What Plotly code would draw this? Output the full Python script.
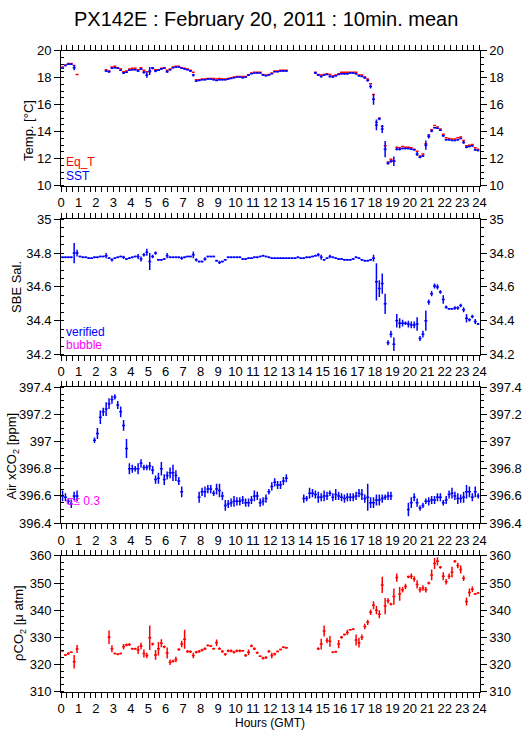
import plotly.graph_objects as go

N = None
# 10-minute bins, centre times in hours GMT
hours = [(i + 0.5) / 6 for i in range(144)]

# ---------------- Temperature ----------------
sst = [
    18.7, 18.9, 19.0, 19.0, 18.75, N,
    N, N, N, N, N, N,
    N, N, N, 18.5, 18.45, 18.7,
    18.75, 18.7, 18.55, 18.35, 18.4, 18.55,
    18.6, 18.6, 18.5, 18.65, 18.4, 18.2,
    18.5, 18.7, 18.5, 18.55, 18.65, 18.7,
    18.45, 18.6, 18.75, 18.8, 18.8, 18.7,
    18.65, 18.6, 18.5, 18.2, 17.75, 17.8,
    17.85, 17.85, 17.9, 17.9, 17.85, 17.8,
    17.85, 17.85, 17.85, 17.9, 17.95, 18.0,
    18.05, 18.05, 18.0, 18.05, 18.2, 18.3,
    18.35, 18.35, 18.35, 18.2, 18.15, 18.2,
    18.3, 18.45, 18.45, 18.5, 18.5, 18.5,
    N, N, N, N, N, N,
    N, N, N, 18.35, 18.2, 18.1,
    18.2, 18.25, 18.1, 18.05, 18.15, 18.25,
    18.3, 18.3, 18.3, 18.35, 18.35, 18.3,
    18.15, 18.1, 18.0, 17.8, 17.35, 16.4,
    14.5, 14.95, 14.2, 12.7, 11.65, 11.8,
    11.8, 12.7, 12.7, 12.75, 12.75, 12.75,
    12.7, 12.65, 12.35, 12.1, 12.2, 13.0,
    13.65, 14.05, 14.3, 14.25, 14.1, 13.7,
    13.4, 13.4, 13.35, 13.35, 13.4, 13.5,
    13.2, 12.85, 12.9, 12.95, 12.65, 12.6,
]
sst_err = [
    .05, .05, .05, .05, .2, 0,
    0, 0, 0, 0, 0, 0,
    0, 0, 0, .05, .08, .05,
    .05, .05, .05, .08, .05, .05,
    .05, .05, .08, .05, .1, .2,
    .3, .08, .1, .05, .05, .05,
    .08, .05, .05, .05, .05, .05,
    .05, .05, .05, .1, .05, .05,
    .03, .03, .03, .03, .03, .03,
    .03, .03, .03, .03, .03, .03,
    .03, .03, .03, .03, .03, .03,
    .03, .03, .03, .03, .03, .03,
    .03, .03, .03, .03, .03, .03,
    0, 0, 0, 0, 0, 0,
    0, 0, 0, .08, .05, .08,
    .05, .05, .08, .05, .05, .05,
    .05, .05, .05, .05, .05, .05,
    .05, .05, .08, .08, .15, .4,
    .4, .1, .3, .6, .1, .1,
    .35, .1, .1, .05, .05, .05,
    .05, .05, .15, .08, .08, .35,
    .15, .1, .05, .05, .05, .08,
    .05, .05, .05, .05, .05, .05,
    .1, .08, .05, .05, .08, .05,
]
eq_t = [
    18.8, 18.95, 19.05, 19.05, 18.9, 18.25,
    N, N, N, N, N, N,
    N, N, N, 18.6, 18.5, 18.8,
    18.85, 18.75, 18.65, 18.45, 18.5, 18.65,
    18.7, 18.7, 18.6, 18.75, 18.55, 18.45,
    18.45, 18.75, 18.6, 18.6, 18.7, 18.75,
    18.55, 18.65, 18.8, 18.85, 18.85, 18.75,
    18.7, 18.65, 18.55, 18.4, 17.85, 17.85,
    17.9, 17.9, 17.95, 17.95, 17.95, 17.9,
    17.95, 17.9, 17.9, 17.95, 18.0, 18.05,
    18.1, 18.1, 18.1, 18.1, 18.2, 18.35,
    18.4, 18.4, 18.4, 18.25, 18.2, 18.25,
    18.35, 18.5, 18.5, 18.55, 18.55, 18.55,
    N, N, N, N, N, N,
    N, N, N, 18.4, 18.25, 18.2,
    18.25, 18.3, 18.25, 18.15, 18.2, 18.3,
    18.4, 18.4, 18.4, 18.4, 18.4, 18.4,
    18.2, 18.2, 18.05, 17.9, 17.55, 16.75,
    14.7, 15.0, 14.4, 12.95, 11.75, 11.95,
    11.85, 12.85, 12.8, 12.9, 12.85, 12.85,
    12.8, 12.7, 12.55, 12.2, 12.35, 13.1,
    13.75, 14.15, 14.45, 14.35, 14.2, 13.8,
    13.55, 13.5, 13.45, 13.45, 13.55, 13.6,
    13.35, 12.95, 13.0, 13.05, 12.8, 12.7,
]

# ---------------- Salinity ----------------
sal = [
    34.775, 34.775, 34.775, 34.775, 34.80, 34.80,
    34.78, 34.775, 34.775, 34.77, 34.77, 34.775,
    34.775, 34.78, 34.78, 34.785, 34.77, 34.76,
    34.77, 34.775, 34.78, 34.775, 34.765, 34.77,
    34.775, 34.78, 34.78, 34.765, 34.79, 34.805,
    34.75, 34.78, 34.80, 34.76, 34.76, 34.765,
    34.785, 34.775, 34.775, 34.775, 34.775, 34.77,
    34.775, 34.78, 34.78, 34.79, 34.76, 34.75,
    34.75, 34.765, 34.78, 34.78, 34.78, 34.755,
    34.745, 34.75, 34.76, 34.775, 34.775, 34.775,
    34.775, 34.775, 34.765, 34.765, 34.77, 34.77,
    34.775, 34.775, 34.78, 34.785, 34.78, 34.775,
    34.77, 34.77, 34.77, 34.77, 34.77, 34.77,
    34.77, 34.77, 34.77, 34.775, 34.77, 34.77,
    34.775, 34.775, 34.78, 34.785, 34.79, 34.775,
    34.76, 34.77, 34.78, 34.775, 34.77, 34.765,
    34.765, 34.76, 34.76, 34.76, 34.765, 34.775,
    34.77, 34.76, 34.755, 34.755, 34.76, 34.77,
    34.63, 34.59, 34.62, 34.50, 34.27, 34.32,
    34.26, 34.40, 34.385, 34.385, 34.385, 34.38,
    34.375, 34.375, 34.38, 34.295, 34.32, 34.40,
    34.51, 34.56, 34.605, 34.60, 34.57, 34.525,
    34.48, 34.47, 34.47, 34.475, 34.475, 34.49,
    34.465, 34.415, 34.405, 34.425, 34.395, 34.38,
]
sal_err = [
    .005, .005, .005, .005, .06, .02,
    .005, .005, .005, .005, .005, .005,
    .005, .005, .005, .015, .005, .01,
    .005, .005, .005, .01, .005, .005,
    .005, .005, .015, .015, .01, .02,
    .05, .01, .01, .005, .005, .005,
    .015, .005, .005, .005, .005, .01,
    .005, .005, .005, .02, .01, .005,
    .005, .01, .005, .005, .005, .005,
    .01, .005, .005, .005, .005, .005,
    .005, .005, .005, .005, .005, .005,
    .005, .005, .005, .005, .005, .005,
    .005, .005, .005, .005, .005, .005,
    .005, .005, .005, .005, .005, .005,
    .005, .005, .005, .005, .01, .015,
    .005, .005, .01, .005, .005, .005,
    .005, .005, .005, .005, .005, .005,
    .005, .005, .005, .005, .005, .02,
    .11, .05, .06, .06, .015, .02,
    .04, .04, .03, .02, .01, .02,
    .02, .02, .04, .015, .02, .06,
    .015, .015, .015, .015, .01, .025,
    .01, .005, .005, .01, .01, .01,
    .015, .025, .01, .01, .015, .005,
]

# ---------------- Air xCO2 ----------------
xco2 = [
    396.60, 396.59, 396.56, 396.54, 396.60, 396.60,
    N, N, N, N, N, 397.01,
    397.06, 397.18, 397.22, 397.24, 397.28, 397.31,
    397.33, 397.27, 397.22, 397.12, 396.95, 396.80,
    396.80, 396.80, 396.80, 396.84, 396.81, 396.81,
    396.82, 396.79, 396.72, 396.73, 396.80, 396.72,
    396.75, 396.77, 396.77, 396.75, 396.71, 396.63,
    N, N, N, N, N, 396.59,
    396.63, 396.63, 396.65, 396.65, 396.62, 396.65,
    396.64, 396.60, 396.53, 396.54, 396.55, 396.56,
    396.56, 396.56, 396.57, 396.55, 396.55, 396.57,
    396.60, 396.60, 396.55, 396.56, 396.58, 396.63,
    396.67, 396.70, 396.68, 396.68, 396.71, 396.73,
    N, N, N, N, N, 396.58,
    396.58, 396.62, 396.62, 396.61, 396.59, 396.59,
    396.60, 396.60, 396.62, 396.59, 396.61, 396.60,
    396.59, 396.58, 396.59, 396.59, 396.59, 396.60,
    396.62, 396.61, 396.58, 396.59, 396.55, 396.55,
    396.57, 396.57, 396.58, 396.59, 396.60, 396.60,
    N, N, N, N, N, 396.50,
    396.55, 396.59, 396.55, 396.51, 396.53, 396.56,
    396.56, 396.57, 396.57, 396.59, 396.59, 396.55,
    396.57, 396.61, 396.62, 396.60, 396.58, 396.58,
    396.59, 396.63, 396.63, 396.59, 396.63, 396.60,
]
xco2_err = [
    .04, .03, .02, .03, .03, .04,
    0, 0, 0, 0, 0, .02,
    .04, .05, .03, .05, .04, .03,
    .02, .03, .04, .04, .07, .04,
    .03, .02, .04, .03, .02, .02,
    .03, .03, .03, .04, .05, .04,
    .03, .04, .06, .04, .03, .04,
    0, 0, 0, 0, 0, .04,
    .03, .04, .03, .03, .02, .04,
    .05, .03, .04, .03, .03, .04,
    .03, .03, .03, .03, .03, .03,
    .04, .03, .03, .03, .03, .02,
    .03, .03, .03, .03, .03, .03,
    0, 0, 0, 0, 0, .03,
    .02, .04, .03, .03, .04, .03,
    .04, .03, .02, .03, .04, .03,
    .03, .03, .03, .03, .03, .03,
    .03, .04, .03, .10, .04, .04,
    .04, .04, .03, .02, .03, .03,
    0, 0, 0, 0, 0, .05,
    .04, .03, .03, .02, .02, .02,
    .03, .03, .03, .03, .03, .02,
    .03, .03, .04, .03, .04, .03,
    .04, .05, .04, .03, .04, .02,
]

# ---------------- pCO2 ----------------
pco2 = [
    325.0, 323.5, 324.0, 324.5, 321.0, 325.7,
    N, N, N, N, N, N,
    N, N, N, N, 330.0, 325.8,
    324.0, 323.7, 324.0, 326.5, 327.2, 327.3,
    325.8, 325.8, 325.3, 326.8, 324.0, 323.3,
    329.8, 327.5, 323.5, 325.8, 327.8, 326.5,
    324.2, 320.8, 321.2, 321.8, 325.5, 327.5,
    329.3, 324.8, 324.7, 323.3, 324.5, 324.8,
    325.3, 325.8, 327.0, 326.8, 325.8, 328.0,
    325.8, 324.8, 323.7, 325.0, 325.0, 324.5,
    325.0, 325.0, 325.0, 323.3, 324.5, 326.8,
    325.8, 324.3, 323.0, 322.3, 322.5, 324.8,
    323.3, 323.8, 324.8, 325.5, 326.3, 326.1,
    N, N, N, N, N, N,
    N, N, N, N, 325.8, 327.5,
    332.3, 328.8, 328.5, 324.5, 324.7, 327.5,
    330.0, 331.0, 331.8, 332.8, 333.0, 329.0,
    328.0, 330.0, 334.0, 335.5, 339.2, 341.8,
    340.0, 338.5, 349.3, 341.5, 343.5, 342.2,
    345.0, 352.0, 346.0, 347.5, 348.7, 352.3,
    352.5, 351.5, 349.5, 347.5, 348.2, 347.5,
    350.0, 353.0, 357.2, 358.0, 355.8, 352.5,
    350.5, 352.5, 354.0, 358.0, 356.5, 355.0,
    351.8, 343.2, 346.5, 347.7, 346.0, 346.3,
]
pco2_err = [
    .3, .3, .5, .3, 2.5, 1.5,
    0, 0, 0, 0, 0, 0,
    0, 0, 0, 0, 2.5, 1.3,
    .3, .3, .3, 1.0, .5, .5,
    .3, .3, 1.5, 1.2, 1.5, 1.0,
    4.5, .5, 1.8, 2.5, 1.5, .5,
    2.0, 1.0, .5, 1.0, .5, 1.2,
    3.5, .5, .5, 1.0, .5, .5,
    .5, .5, .3, .3, .3, 1.2,
    .5, .5, .5, .5, .5, .5,
    .5, .5, .3, .5, 1.0, .5,
    .5, .5, .3, .5, .5, .5,
    1.0, .5, .3, .3, .3, .3,
    0, 0, 0, 0, 0, 0,
    0, 0, 0, 0, .5, 2.0,
    2.0, 1.0, 2.0, .3, .3, 1.5,
    .5, .3, 1.0, .3, .3, 2.0,
    1.8, 1.0, 1.0, 1.0, 1.0, 1.5,
    1.5, 1.5, 3.0, 3.0, 1.0, .5,
    3.0, 1.5, 2.5, 1.0, 1.0, .5,
    1.0, 1.0, 1.5, 1.0, 1.0, 1.0,
    .5, 2.0, 2.0, 1.5, .5, 1.5,
    1.0, 1.0, 2.0, .5, 1.0, 1.5,
    1.0, 1.5, 1.5, 1.0, .3, .3,
]

x_ticks = list(range(25))
y_ranges = [(10, 20), (34.2, 35), (396.4, 397.4), (310, 360)]
y_dticks = [2, 0.2, 0.2, 10]
y_titles = ["Temp. [°C]", "SBE Sal.", "Air xCO<sub>2</sub> [ppm]", "ρCO<sub>2</sub> [μ atm]"]

RED, BLUE, MAG = "#ff0000", "#0000ff", "#ff00ff"
W, H = 529, 739
FONT = "Liberation Sans, Arial, Helvetica, sans-serif"

# panel geometry in pixels
x_left, x_right = 58.3, 485.7
panel_px = [(44.7, 182.3), (216.7, 354.7), (388.3, 526.7), (560.3, 698.7)]
title_x_px = [25, 12, 9, 16]
title_y_px = [126, 286, 458, 629]

fig = go.Figure()

def add_series(k, y, err, color):
    xa = "x" if k == 1 else f"x{k}"
    ya = "y" if k == 1 else f"y{k}"
    fig.add_trace(go.Scatter(
        x=hours, y=y, mode="markers", xaxis=xa, yaxis=ya,
        marker=dict(size=1, color=color),
        error_x=dict(type="constant", value=1 / 12, width=0, thickness=1.5, color=color),
        error_y=(dict(type="data", array=err, width=0, thickness=1.5, color=color)
                 if err is not None else dict(visible=False)),
        showlegend=False, hoverinfo="skip"))

add_series(1, eq_t, None, RED)
add_series(1, sst, sst_err, BLUE)
add_series(2, sal, sal_err, BLUE)
add_series(3, xco2, xco2_err, BLUE)
add_series(4, pco2, pco2_err, RED)

tickfont = dict(family=FONT, size=13, color="black")
layout = dict(
    width=W, height=H, margin=dict(l=0, r=0, t=0, b=0),
    paper_bgcolor="white", plot_bgcolor="white", showlegend=False,
    font=dict(family=FONT, color="black"),
)
for k in range(1, 5):
    top, bot = panel_px[k - 1]
    dom_y = [1 - bot / H, 1 - top / H]
    sfx = "" if k == 1 else str(k)
    lo, hi = y_ranges[k - 1]
    dt = y_dticks[k - 1]
    layout["xaxis" + sfx] = dict(
        domain=[x_left / W, x_right / W], range=[0, 24], anchor="y" + sfx,
        tickmode="array", tickvals=x_ticks, ticktext=[str(v) for v in x_ticks],
        ticks="outside", ticklen=5, tickwidth=1, tickcolor="black",
        minor=dict(dtick=1 / 3, tick0=0, ticks="outside", ticklen=3, tickcolor="black", tickwidth=1),
        showline=True, linecolor="black", linewidth=1, mirror="allticks",
        showgrid=False, zeroline=False, tickfont=tickfont, fixedrange=True)
    layout["yaxis" + sfx] = dict(
        domain=dom_y, range=[lo, hi], anchor="x" + sfx,
        tick0=lo, dtick=dt, ticks="outside", ticklen=6, tickcolor="black",
        minor=dict(dtick=dt / 4, tick0=lo, ticks="inside", ticklen=3, tickcolor="black"),
        showline=True, linecolor="black", linewidth=1, mirror=True,
        showgrid=False, zeroline=False, tickfont=tickfont, fixedrange=True)
    layout["yaxis" + str(k + 4)] = dict(
        overlaying="y" + sfx, side="right", anchor="x" + sfx, range=[lo, hi],
        tick0=lo, dtick=dt, ticks="outside", ticklen=6, tickcolor="black",
        minor=dict(dtick=dt / 4, tick0=lo, ticks="outside", ticklen=3, tickcolor="black"),
        showline=False, showgrid=False, zeroline=False, tickfont=tickfont, fixedrange=True)
    # invisible carrier so the right-hand axis is drawn
    fig.add_trace(go.Scatter(x=[0], y=[lo], xaxis="x" + sfx, yaxis="y" + str(k + 4),
                             mode="markers", marker=dict(size=1, opacity=0),
                             showlegend=False, hoverinfo="skip"))

annotations = [
    dict(text="PX142E : February 20, 2011 : 10min. mean", x=267.5 / W, y=1 - 12 / H,
         xref="paper", yref="paper", xanchor="center", yanchor="middle", showarrow=False,
         font=dict(family=FONT, size=20, color="black")),
    dict(text="Hours (GMT)", x=272 / W, y=1 - 731 / H, xref="paper", yref="paper",
         xanchor="center", yanchor="middle", showarrow=False,
         font=dict(family=FONT, size=12, color="black")),
]
for k in range(4):
    annotations.append(dict(
        text=y_titles[k], x=title_x_px[k] / W, y=1 - title_y_px[k] / H,
        xref="paper", yref="paper", xanchor="center", yanchor="middle",
        textangle=-90, showarrow=False, font=dict(family=FONT, size=13, color="black")))

labels = [("Eq_T", RED, 158), ("SST", BLUE, 173), ("verified", BLUE, 332),
          ("bubble", MAG, 345), ("σ≤ 0.3", MAG, 504)]
for txt, col, ypx in labels:
    annotations.append(dict(
        text=txt, x=61 / W, y=1 - ypx / H, xref="paper", yref="paper",
        xanchor="left", yanchor="middle", showarrow=False,
        font=dict(family=FONT, size=12, color=col)))

layout["annotations"] = annotations
fig.update_layout(**layout)
fig.write_html(
    "out.html",
    config={"displayModeBar": False, "staticPlot": True},
    post_script="document.body.style.margin='0';document.body.style.padding='0';"
                "document.documentElement.style.overflow='hidden';",
)
